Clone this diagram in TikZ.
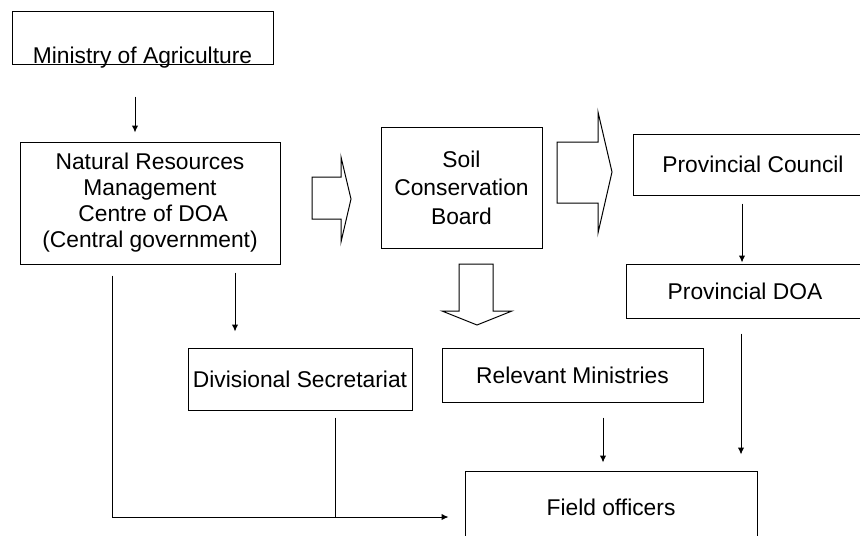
\documentclass[tikz,border=0pt]{standalone}
\usepackage{fontspec}
\setmainfont{Liberation Sans}
\usetikzlibrary{arrows.meta}

\tikzset{
    orgbox/.style={draw, line width=0.5pt, inner sep=1pt, align=center,
                   font=\fontsize{11.4}{13}\selectfont},
    thinarrow/.style={-{Latex[length=3.5pt,width=3.2pt]}, line width=0.5pt},
    fatarrow/.style={draw, line width=0.5pt, line join=miter},
}

\begin{document}
\begin{tikzpicture}[x=0.5pt, y=-0.5pt]
    \clip (0,0) rectangle (860,535);

    % boxes
    \node[orgbox, minimum width=130.5pt, minimum height=26.5pt, inner ysep=0pt,
          text height=26pt, text depth=0.5pt] (min) at (142.5,38.5) {Ministry of Agriculture};
    \node[orgbox, minimum width=130pt, minimum height=61pt] (nrm) at (150,203)
        {Natural Resources\\Management\\\ Centre of DOA\\(Central government)};
    \node[orgbox, minimum width=80.5pt, minimum height=60.5pt] (scb) at (461.5,187.5)
        {Soil\\[1.2pt]Conservation\\[1.2pt]Board};
    \node[orgbox, minimum width=120pt, minimum height=30.5pt] (pc) at (753,164.5) {Provincial Council};
    \node[orgbox, minimum width=119pt, minimum height=27pt] (pdoa) at (745,291) {Provincial DOA};
    \node[orgbox, minimum width=112pt, minimum height=31pt] (ds) at (300,379) {Divisional Secretariat};
    \node[orgbox, minimum width=130.5pt, minimum height=27pt] (rm) at (572.5,375) {Relevant Ministries};
    \node[orgbox, minimum width=146pt, minimum height=36pt] (fo) at (611,507) {Field officers};

    % block arrows
    \draw[fatarrow] (312,177) -- (341,177) -- (341,157) -- (351,199) -- (341,242)
        -- (341,219) -- (312,219) -- cycle;
    \draw[fatarrow] (557,142) -- (598,142) -- (598,112) -- (612,172) -- (598,233)
        -- (598,203) -- (557,203) -- cycle;
    \draw[fatarrow] (459,264) -- (493,264) -- (493,311) -- (512,311) -- (477,325)
        -- (442,311) -- (459,311) -- cycle;

    % thin arrows
    \draw[thinarrow, shorten <=15.5pt, shorten >=4.5pt]
        ([xshift=-3.75pt]min.south) -- ([xshift=-3.75pt]min.south |- nrm.north);
    \draw[thinarrow, shorten <=4pt, shorten >=8pt]
        ([xshift=-32.5pt]ds.north |- nrm.south) -- ([xshift=-32.5pt]ds.north);
    \draw[thinarrow, shorten <=4pt, shorten >=0.5pt]
        ([xshift=-1.5pt]pdoa.north |- pc.south) -- ([xshift=-1.5pt]pdoa.north);
    \draw[thinarrow, shorten <=7.5pt, shorten >=4pt]
        ([xshift=-4pt]fo.north |- rm.south) -- ([xshift=-4pt]fo.north);
    \draw[thinarrow, shorten <=7.5pt, shorten >=8pt]
        ([xshift=-2pt]pdoa.south) -- ([xshift=-2pt]pdoa.south |- fo.north);

    % lines to the field officers
    \coordinate (foin) at ([xshift=-8pt,yshift=-5pt]fo.west);
    \coordinate (nrmout) at ([xshift=-19pt,yshift=-5.5pt]nrm.south);
    \coordinate (dsout) at ([xshift=17.5pt,yshift=-3.5pt]ds.south);
    \draw[thinarrow] (nrmout) |- (foin);
    \draw[line width=0.5pt] (dsout) -- (dsout |- foin);
\end{tikzpicture}
\end{document}
